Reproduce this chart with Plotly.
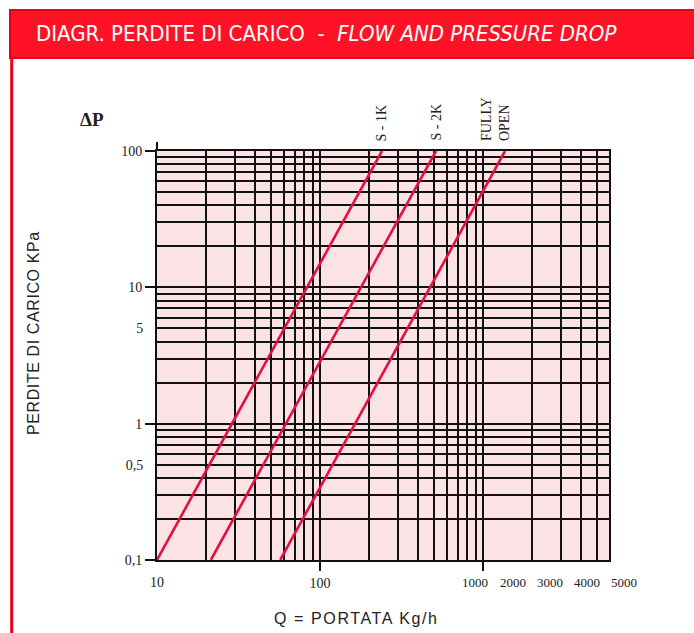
import math
import plotly.graph_objects as go

# ---------------- data ----------------
dp = [0.1, 100]                      # pressure drop ΔP (kPa) at the two ends
q_s1k = [10, 240]                    # flow Q (kg/h) for S - 1K
q_s2k = [21.4, 515]                  # flow Q (kg/h) for S - 2K
q_open = [57, 1365]                  # flow Q (kg/h) for FULLY OPEN
series_names = ["S - 1K", "S - 2K", "FULLY<br>OPEN"]

x_major_vals = [100, 1000]
x_major_text = ["100", ""]
x_extra_vals = [10]
x_extra_text = ["10"]
x_far_text = ["1000", "2000", "3000", "4000", "5000"]
x_minor_vals = [20, 30, 40, 50, 60, 70, 80, 90,
                200, 300, 400, 500, 600, 700, 800, 900,
                2000, 3000, 4000, 5000]

y_major_vals = [0.1, 1, 10, 100]
y_major_text = ["0,1", "1", "10", "100"]
y_extra_vals = [0.5, 5]
y_extra_text = ["0,5", "5"]
y_minor_vals = [0.2, 0.3, 0.4, 0.5, 0.6, 0.7, 0.8, 0.9,
                2, 3, 4, 5, 6, 7, 8, 9,
                20, 30, 40, 50, 60, 70, 80, 90]

# ---------------- layout geometry (pixels) ----------------
W, H = 694, 633
L, R, T, B = 157, 609, 151, 560


def px(x):
    return (x - L) / (R - L)


def py(y):
    return (B - y) / (B - T)


X_RANGE = [1, 1 + (R - L) / 163.0]
Y_RANGE = [-1, 2]

RED_LINE = "#e3103c"
GRID = "#111111"
SERIF = "Liberation Serif, Times New Roman, serif"
SANS = "Liberation Sans, Arial, sans-serif"

fig = go.Figure()
for q, name in zip([q_s1k, q_s2k, q_open], series_names):
    fig.add_trace(go.Scatter(x=q, y=dp, mode="lines", name=name,
                             line=dict(color=RED_LINE, width=2.6),
                             showlegend=False, hoverinfo="skip"))

# invisible trace to activate overlay axes
fig.add_trace(go.Scatter(x=[10], y=[1], xaxis="x2", yaxis="y2", mode="markers",
                         marker=dict(opacity=0), showlegend=False, hoverinfo="skip"))

axis_common = dict(type="log", showline=True, linecolor=GRID, linewidth=2,
                   mirror=True, zeroline=False, gridcolor=GRID, gridwidth=1.5,
                   tickfont=dict(family=SERIF, size=14, color="#222"),
                   ticks="outside", tickcolor=GRID, tickwidth=1.6)

fig.update_layout(
    width=W, height=H, autosize=False,
    margin=dict(l=L, r=W - R, t=T, b=H - B),
    paper_bgcolor="white", plot_bgcolor="#fae2e5",
    xaxis=dict(axis_common, range=X_RANGE, tickmode="array",
               tickvals=x_major_vals, ticktext=x_major_text, ticklen=9,
               minor=dict(tickmode="array", tickvals=x_minor_vals, showgrid=True,
                          gridcolor=GRID, gridwidth=1.5, ticks="")),
    yaxis=dict(axis_common, range=Y_RANGE, tickmode="array",
               tickvals=y_major_vals, ticktext=y_major_text, ticklen=10,
               minor=dict(tickmode="array", tickvals=y_minor_vals, showgrid=True,
                          gridcolor=GRID, gridwidth=1.5, ticks="")),
    xaxis2=dict(type="log", range=X_RANGE, overlaying="x", side="bottom",
                showgrid=False, showline=False, zeroline=False,
                tickmode="array", tickvals=x_extra_vals, ticktext=x_extra_text,
                ticks="outside", ticklen=9, tickcolor="rgba(0,0,0,0)",
                tickfont=dict(family=SERIF, size=14, color="#222")),
    yaxis2=dict(type="log", range=Y_RANGE, overlaying="y", side="left",
                showgrid=False, showline=False, zeroline=False,
                tickmode="array", tickvals=y_extra_vals, ticktext=y_extra_text,
                ticks="outside", ticklen=10, tickcolor="rgba(0,0,0,0)",
                tickfont=dict(family=SERIF, size=14, color="#222")),
)

shapes = [
    # header band
    dict(type="rect", xref="paper", yref="paper", x0=px(10), x1=px(700),
         y0=py(58), y1=py(10), fillcolor="#ff1226",
         line=dict(color="#e2001c", width=2), layer="above"),
    # left red frame line
    dict(type="line", xref="paper", yref="paper", x0=px(11.7), x1=px(11.7),
         y0=py(58), y1=py(650), line=dict(color="#f00014", width=3)),
    # y axis line extension above top
    dict(type="line", xref="paper", yref="paper", x0=0, x1=0,
         y0=1, y1=py(142), line=dict(color=GRID, width=2)),
]
fig.update_layout(shapes=shapes)

nb = "\u00a0"
annotations = [
    dict(xref="paper", yref="paper", x=px(34), y=py(34), xanchor="left",
         yanchor="middle", showarrow=False,
         text="DIAGR. PERDITE DI CARICO" + nb * 2 + "-" + nb * 2 +
              "<i>FLOW AND PRESSURE DROP</i>",
         font=dict(family="DejaVu Sans Condensed, Liberation Sans Narrow, Liberation Sans, sans-serif",
                   size=22, color="white")),
    dict(xref="paper", yref="paper", x=px(92), y=py(119), xanchor="center",
         yanchor="middle", showarrow=False,
         text="<b>ΔP</b>", font=dict(family=SERIF, size=19, color="#222")),
    dict(xref="paper", yref="paper", x=px(33), y=py(333), xanchor="center",
         yanchor="middle", showarrow=False, textangle=-90,
         text='<span style="letter-spacing:0.6px">PERDITE DI CARICO KPa</span>',
         font=dict(family=SANS, size=16, color="#222")),
    dict(xref="paper", yref="paper", x=px(356), y=py(618), xanchor="center",
         yanchor="middle", showarrow=False,
         text='<span style="letter-spacing:1.6px">Q = PORTATA Kg/h</span>',
         font=dict(family=SANS, size=16, color="#222")),
]

far_pos = [475, 512.5, 550, 587, 624]
for t, xp in zip(x_far_text, far_pos):
    annotations.append(dict(xref="paper", yref="paper", x=px(xp), y=py(582),
                            xanchor="center", yanchor="middle",
                            showarrow=False, text=t,
                            font=dict(family=SERIF, size=13, color="#222")))

shifts = [0, 0, -9]
for q, name, sh in zip([q_s1k, q_s2k, q_open], series_names, shifts):
    annotations.append(dict(xref="x", yref="paper", x=math.log10(q[-1]),
                            y=py(143), xanchor="center", yanchor="bottom",
                            xshift=sh, textangle=-90, align="left",
                            showarrow=False, text=name,
                            font=dict(family=SERIF, size=14, color="#222")))

fig.update_layout(annotations=annotations)
fig.write_html("out.html", config={"displayModeBar": False},
               post_script="document.body.style.margin='0px';document.body.style.padding='0px';")
